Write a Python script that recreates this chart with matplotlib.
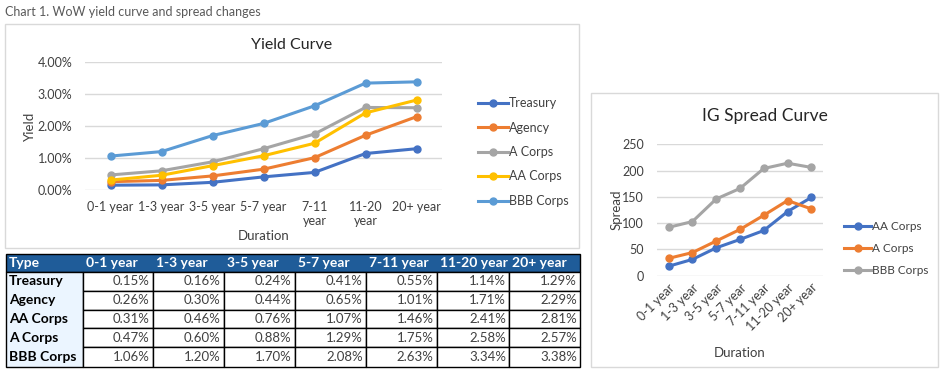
import matplotlib.pyplot as plt
from matplotlib.patches import Rectangle
from matplotlib.ticker import FuncFormatter

plt.rcParams['font.family'] = ['Lato', 'DejaVu Sans']

# data
durations = ["0-1 year", "1-3 year", "3-5 year", "5-7 year", "7-11 year", "11-20 year", "20+ year"]
yield_ticks = ["0-1 year", "1-3 year", "3-5 year", "5-7 year", "7-11\nyear", "11-20\nyear", "20+ year"]
treasury = [0.15, 0.16, 0.24, 0.41, 0.55, 1.14, 1.29]
agency = [0.26, 0.30, 0.44, 0.65, 1.01, 1.71, 2.29]
aa_corps = [0.31, 0.46, 0.76, 1.07, 1.46, 2.41, 2.81]
a_corps = [0.47, 0.60, 0.88, 1.29, 1.75, 2.58, 2.57]
bbb_corps = [1.06, 1.20, 1.70, 2.08, 2.63, 3.34, 3.38]

spread_aa = [18, 31, 53, 69, 86, 122, 149]
spread_a = [33, 44, 66, 88, 115, 143, 127]
spread_bbb = [92, 103, 146, 166, 204, 214, 206]

W, H = 947, 374
fig = plt.figure(figsize=(W / 100, H / 100), dpi=100)


def px(x0, y0, x1, y1):
    return [x0 / W, 1 - y1 / H, (x1 - x0) / W, (y1 - y0) / H]


# background layer in pixel coords
bg = fig.add_axes([0, 0, 1, 1])
bg.set_xlim(0, W)
bg.set_ylim(H, 0)
bg.axis('off')

bg.text(5, 12, "Chart 1. WoW yield curve and spread changes", fontsize=9, color='#595959', va='center')
bg.add_patch(Rectangle((5, 24), 574, 224, facecolor='white', edgecolor='#D9D9D9', lw=1))
bg.add_patch(Rectangle((591, 93), 347, 274, facecolor='white', edgecolor='#D9D9D9', lw=1))
bg.text(292, 45, "Yield Curve", fontsize=11.5, ha='center', va='center', color='#262626')
bg.text(764.5, 116, "IG Spread Curve", fontsize=12.5, ha='center', va='center', color='#262626')

# table
col_x = [6, 83, 152.5, 223.6, 294.6, 365.7, 436.8, 509, 580]
row_y = [254, 272, 290.8, 309.6, 328.4, 347.2, 366.5]
rows = [("Treasury", treasury), ("Agency", agency), ("AA Corps", aa_corps),
        ("A Corps", a_corps), ("BBB Corps", bbb_corps)]
header_col = '#1F5C99'
bg.add_patch(Rectangle((col_x[0], row_y[0]), col_x[-1] - col_x[0], row_y[1] - row_y[0],
                       facecolor=header_col, edgecolor='black', lw=1))
bg.add_patch(Rectangle((col_x[0], row_y[1]), col_x[1] - col_x[0], row_y[-1] - row_y[1],
                       facecolor='#EBF5FF', edgecolor='black', lw=1))
head = ["Type"] + durations
for j, h in enumerate(head):
    bg.text(col_x[j] + 3, (row_y[0] + row_y[1]) / 2, h, color='white', fontsize=10,
            fontweight='bold', ha='left', va='center')
for i, (name, vals) in enumerate(rows):
    yc = (row_y[i + 1] + row_y[i + 2]) / 2
    bg.text(col_x[0] + 3, yc, name, fontsize=10, fontweight='bold', ha='left', va='center', color='black')
    for j, v in enumerate(vals):
        bg.add_patch(Rectangle((col_x[j + 1], row_y[i + 1]), col_x[j + 2] - col_x[j + 1],
                               row_y[i + 2] - row_y[i + 1], facecolor='white', edgecolor='black', lw=1))
        bg.text(col_x[j + 2] - 3, yc, f"{v:.2f}%", fontsize=9.5, ha='right', va='center', color='#404040')

# yield curve
ax = fig.add_axes(px(85, 62, 442, 190))
ax.set_facecolor('none')
series = [("Treasury", treasury, '#4472C4'), ("Agency", agency, '#ED7D31'),
          ("A Corps", a_corps, '#A5A5A5'), ("AA Corps", aa_corps, '#FFC000'),
          ("BBB Corps", bbb_corps, '#5B9BD5')]
x = range(len(durations))
for name, vals, c in series:
    ax.plot(x, vals, color=c, lw=2.2, marker='o', markersize=5, label=name)
ax.set_xlim(-0.5, 6.5)
ax.set_ylim(0, 4)
ax.set_yticks([0, 1, 2, 3, 4])
ax.yaxis.set_major_formatter(FuncFormatter(lambda v, p: f"{v:.2f}%"))
ax.set_xticks(list(x))
ax.set_xticklabels(yield_ticks)
ax.grid(axis='y', color='#D9D9D9', lw=1)
ax.set_axisbelow(True)
for s in ax.spines.values():
    s.set_visible(False)
ax.tick_params(length=0, labelsize=9, colors='#404040')
ax.tick_params(axis='y', pad=9)
ax.tick_params(axis='x', pad=8)
ax.set_ylabel("Yield", fontsize=9.5, color='#404040', labelpad=1)
ax.set_xlabel("Duration", fontsize=9.5, color='#404040', labelpad=2)
ax.legend(loc='center left', bbox_to_anchor=(478 / W, 1 - 152 / H), bbox_transform=fig.transFigure,
          frameon=False, fontsize=9, handlelength=2.4, handletextpad=0.1, labelspacing=1.0,
          borderaxespad=0, borderpad=0, labelcolor='#404040')

# spread curve
ax2 = fig.add_axes(px(656.7, 144.3, 823.3, 275.7))
ax2.set_facecolor('none')
spreads = [("AA Corps", spread_aa, '#4472C4'), ("A Corps", spread_a, '#ED7D31'),
           ("BBB Corps", spread_bbb, '#A5A5A5')]
for name, vals, c in spreads:
    ax2.plot(x, vals, color=c, lw=2.2, marker='o', markersize=5, label=name)
ax2.set_xlim(-0.5, 6.5)
ax2.set_ylim(0, 250)
ax2.set_yticks([0, 50, 100, 150, 200, 250])
ax2.set_xticks(list(x))
ax2.set_xticklabels(durations, rotation=45, ha='right', rotation_mode='anchor')
ax2.grid(axis='y', color='#D9D9D9', lw=1)
ax2.set_axisbelow(True)
for s in ax2.spines.values():
    s.set_visible(False)
ax2.tick_params(length=0, labelsize=9, colors='#404040')
ax2.tick_params(axis='y', pad=9)
ax2.tick_params(axis='x', pad=4)
ax2.set_ylabel("Spread", fontsize=9.5, color='#404040', labelpad=0)
ax2.set_xlabel("Duration", fontsize=9.5, color='#404040', labelpad=10)
ax2.legend(loc='center left', bbox_to_anchor=(844 / W, 1 - 248.7 / H), bbox_transform=fig.transFigure,
           frameon=False, fontsize=8.5, handlelength=2.3, handletextpad=0.1, labelspacing=0.95,
           borderaxespad=0, borderpad=0, labelcolor='#404040')

fig.savefig("out.png", dpi=100)
